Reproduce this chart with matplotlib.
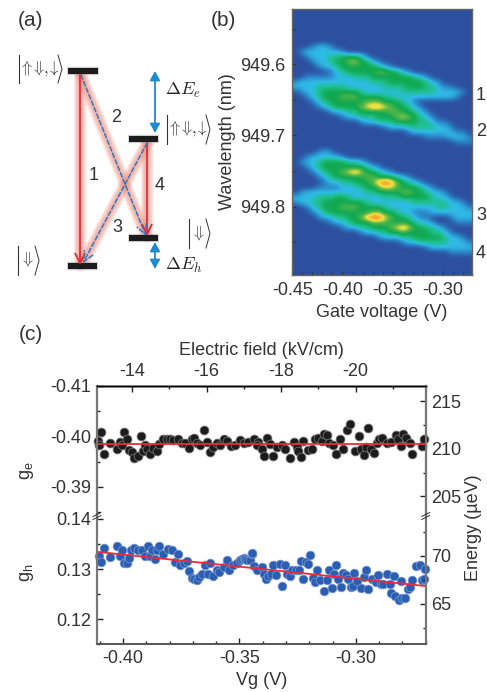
import numpy as np
import matplotlib
matplotlib.use('Agg')
import matplotlib.pyplot as plt
from matplotlib.colors import LinearSegmentedColormap
from matplotlib.ticker import MultipleLocator, FormatStrFormatter

plt.rcParams['font.family'] = ['Liberation Sans', 'DejaVu Sans']
plt.rcParams['mathtext.fontset'] = 'cm'
plt.rcParams['axes.unicode_minus'] = False
plt.rcParams['text.color'] = '#333333'
plt.rcParams['axes.labelcolor'] = '#333333'
plt.rcParams['xtick.labelcolor'] = '#333333'
plt.rcParams['ytick.labelcolor'] = '#333333'

W, H = 487, 692

# panel (c) data
vg_e = [-.4106, -.4093, -.4103, -.4084, -.4056, -.4027, -.4013, -.4003, -.3996, -.3984,
        -.3973, -.3963, -.3954, -.3934, -.3924, -.3916, -.3906, -.3896, -.3884, -.3873,
        -.3856, -.3844, -.3827, -.3813, -.3798, -.3787, -.3765, -.3748, -.3734, -.3715,
        -.3705, -.3694, -.3684, -.3670, -.3654, -.3638, -.3625, -.3612, -.3595, -.3584,
        -.3567, -.3552, -.3538, -.3519, -.3498, -.3479, -.3462, -.3436, -.3419, -.3426,
        -.3405, -.3395, -.3383, -.3369, -.3355, -.3340, -.3319, -.3305, -.3283, -.3265,
        -.3255, -.3247, -.3236, -.3226, -.3205, -.3190, -.3176, -.3162, -.3147, -.3137,
        -.3126, -.3114, -.3097, -.3086, -.3066, -.3054, -.3037, -.3026, -.3004, -.2986,
        -.2980, -.2966, -.2957, -.2946, -.2933, -.2923, -.2911, -.2900, -.2886, -.2868,
        -.2847, -.2828, -.2817, -.2805, -.2797, -.2783, -.2768, -.2757, -.2718, -.2708]
g_e = [-.3991, -.4008, -.3982, -.3966, -.3987, -.3974, -.3989, -.3982, -.4008, -.3995,
       -.3973, -.3969, -.3957, -.3961, -.4001, -.3971, -.3982, -.3974, -.3966, -.3977,
       -.3971, -.3984, -.3995, -.3994, -.3994, -.3992, -.3995, -.3987, -.3986, -.3977,
       -.3994, -.3996, -.3986, -.3982, -.4012, -.3989, -.3970, -.3979, -.3987, -.3982,
       -.3994, -.3991, -.3981, -.3982, -.3993, -.3986, -.3989, -.3994, -.3989, -.3982,
       -.3974, -.3961, -.3997, -.3984, -.3962, -.3979, -.3982, -.3974, -.3957, -.3989,
       -.3979, -.3971, -.3959, -.3991, -.3972, -.3974, -.3994, -.3997, -.3991, -.4004,
       -.4002, -.3986, -.3982, -.3966, -.3995, -.3974, -.4012, -.4025, -.3971, -.4001,
       -.3974, -.3963, -.3979, -.4017, -.3974, -.3967, -.3987, -.3994, -.3997, -.3987,
       -.3989, -.4002, -.3994, -.3981, -.4005, -.3997, -.3987, -.3965, -.3981, -.3994]

vg_h = [-.4103, -.4093, -.4084, -.4056, -.4026, -.4013, -.4004, -.3996, -.3984, -.3973,
        -.3966, -.3954, -.3937, -.3917, -.3906, -.3894, -.3884, -.3876, -.3864, -.3856,
        -.3844, -.3827, -.3808, -.3788, -.3778, -.3765, -.3755, -.3738, -.3724, -.3715,
        -.3705, -.3695, -.3684, -.3674, -.3661, -.3647, -.3635, -.3625, -.3612, -.3598,
        -.3587, -.3567, -.3555, -.3544, -.3526, -.3509, -.3498, -.3491, -.3479, -.3476,
        -.3466, -.3455, -.3448, -.3445, -.3436, -.3423, -.3405, -.3395, -.3386, -.3376,
        -.3366, -.3358, -.3343, -.3326, -.3316, -.3305, -.3295, -.3283, -.3273, -.3258,
        -.3246, -.3237, -.3225, -.3216, -.3206, -.3196, -.3186, -.3176, -.3166, -.3155,
        -.3136, -.3126, -.3116, -.3104, -.3096, -.3086, -.3077, -.3064, -.3054, -.3043,
        -.3033, -.3023, -.3014, -.3006, -.2997, -.2980, -.2966, -.2956, -.2946, -.2931,
        -.2914, -.2906, -.2891, -.2883, -.2867, -.2854, -.2847, -.2837, -.2830, -.2815,
        -.2804, -.2800, -.2787, -.2778, -.2768, -.2757, -.2740, -.2725, -.2718, -.2707,
        -.2704]
g_h = [.1326, .1315, .1343, .1325, .1346, .1326, .1338, .1313, .1313, .1322,
       .1338, .1343, .1338, .1338, .1326, .1347, .1326, .1339, .1321, .1339,
       .1347, .1331, .1341, .1337, .1315, .1330, .1309, .1313, .1316, .1296,
       .1283, .1279, .1278, .1285, .1291, .1308, .1291, .1313, .1286, .1298,
       .1294, .1305, .1317, .1297, .1308, .1313, .1318, .1321, .1323, .1321,
       .1319, .1319, .1331, .1333, .1306, .1298, .1304, .1291, .1281, .1287,
       .1290, .1309, .1288, .1310, .1267, .1309, .1291, .1287, .1299, .1299,
       .1298, .1316, .1281, .1314, .1311, .1328, .1283, .1275, .1297, .1278,
       .1257, .1278, .1297, .1263, .1290, .1309, .1281, .1265, .1293, .1288,
       .1279, .1265, .1266, .1293, .1277, .1262, .1285, .1299, .1260, .1281,
       .1275, .1289, .1270, .1270, .1290, .1270, .1253, .1287, .1247, .1238,
       .1276, .1243, .1243, .1261, .1264, .1278, .1306, .1309, .1278, .1280,
       .1301]

fit_vg = [-.4105, -.2702]
fit_e = [-.3985, -.3985]
fit_h = [.1334, .1266]

# panel (b) intensity map, one character per cell
map_rows = [
    "0" * 30, "0" * 30, "0" * 30, "0" * 30, "0" * 30, "0" * 30, "0" * 30,
    "000122100" + "0" * 21,
    "012222221" + "0" * 21,
    "0012223344431" + "0" * 17,
    "000122344564421" + "0" * 15,
    "00001223444444321" + "0" * 13,
    "00000012344444554421" + "0" * 10,
    "00111112223334444444321" + "0" * 7,
    "1222222222222333444444321" + "0" * 5,
    "222233333222222333344433211" + "000",
    "012234444443222222333333222210",
    "00" + "1" + "2" + "3" + "444" + "555" + "4444" + "33" + "2222222222" + "1" + "00",
    "000123444444555444321" + "0" * 9,
    "0000123444456776544321" + "0" * 8,
    "00000012233444445544321" + "0" * 7,
    "00000000" + "122333444" + "5654321" + "0" * 6,
    "0" * 11 + "12233344443321" + "1" + "0" * 4,
    "0" * 15 + "122233333221" + "000",
    "0" * 19 + "1222222211" + "0",
    "0" * 22 + "11112221",
    "0" * 27 + "111",
    "0" * 30,
    "000012100" + "0" * 21,
    "001222221" + "0" * 21,
    "0122344443321" + "0" * 17,
    "001234444444321" + "0" * 15,
    "00012344567644321" + "0" * 13,
    "00001234444455444321" + "0" * 10,
    "0000012233444578754321" + "0" * 8,
    "000011112223445665444321" + "0" * 6,
    "01" + "2222222222" + "33444455443221" + "0" * 4,
    "2222333443222223334444432210" + "00",
    "122334444444322222223333332210",
    "00123444555444432222222233222" + "1",
    "000123444444455443221112222222",
    "0000122334457886544321" + "1" + "000" + "1222",
    "00000012234445554444322" + "1" + "000111",
    "00000000" + "12233444" + "5676" + "44332" + "1" + "0000",
    "0" * 11 + "12233445444433210" + "00",
    "0" * 14 + "12223344444322" + "10",
    "0" * 18 + "122333332221",
    "0" * 22 + "12222222",
    "0" * 26 + "1111",
    "0" * 30, "0" * 30, "0" * 30, "0" * 30,
]
map_colors = ['#2d4f9f', '#2a84c6', '#2fbbe6', '#1fc08f', '#10a850', '#58b848',
              '#f4e440', '#f8a030', '#e62c28']

kets = [(19, 62, 55, 83, r'$\Uparrow\!\!\Downarrow\!,\!\!\downarrow$'),
        (167, 210, 115, 144, r'$\Uparrow\!\!\Downarrow\!,\!\!\downarrow$'),
        (189, 210, 219, 248, r'$\Downarrow$'), (18, 39, 246, 275, r'$\Downarrow$')]
bars = [(68, 98, 71), (129, 158, 139), (129, 158, 238), (68, 97, 266)]
red_paths = [(80, 75, 80, 265), (147, 143, 147, 236)]
blue_paths = [(81, 75, 146, 236), (147, 143, 83, 263)]
line_labels_a = [('1', 94, 175), ('2', 116, 118), ('3', 117, 228), ('4', 160, 185)]
line_labels_b = [('1', 481, 96), ('2', 481, 131), ('3', 481, 216), ('4', 481, 253)]


def box(l, t, r, b):
    return [l / W, 1 - b / H, (r - l) / W, (b - t) / H]


fig = plt.figure(figsize=(W / 100, H / 100), dpi=100)

# overlay in pixel units for the schematic and free labels
bg = fig.add_axes([0, 0, 1, 1])
bg.set_xlim(0, W)
bg.set_ylim(H, 0)
bg.axis('off')

for x0, y0, x1, y1 in red_paths + blue_paths:
    for lw in (9, 7.5, 6, 4.5, 3):
        bg.plot([x0, x1], [y0, y1], color='#f08a78', lw=lw, alpha=0.17, solid_capstyle='round', zorder=1)
for x0, x1, y in bars:
    bg.plot([x0 - 1, x1 + 1], [y, y], color='#999999', lw=6, alpha=0.4, solid_capstyle='butt', zorder=2)
    bg.plot([x0, x1], [y, y], color='#1c1c1c', lw=4.4, solid_capstyle='butt', zorder=3)
for x0, y0, x1, y1 in red_paths:
    bg.annotate('', xy=(x1, y1), xytext=(x0, y0), zorder=4,
                arrowprops=dict(arrowstyle='->,head_length=0.7,head_width=0.35', color='#e8202c', lw=1.2,
                                shrinkA=0, shrinkB=0))
for x0, y0, x1, y1 in blue_paths:
    bg.annotate('', xy=(x1, y1), xytext=(x0, y0), zorder=5,
                arrowprops=dict(arrowstyle='->,head_length=0.7,head_width=0.35', color='#2c7cc4', lw=1.1,
                                linestyle=(0, (3, 1.6)), shrinkA=0, shrinkB=0))
for y0, y1 in [(71, 133), (242, 269)]:
    bg.annotate('', xy=(155, y1), xytext=(155, y0),
                arrowprops=dict(arrowstyle='<|-|>,head_length=0.55,head_width=0.3', color='#1f8bcc', lw=1.3,
                                shrinkA=0, shrinkB=0))
bg.text(165, 90, r'$\Delta E_e$', fontsize=13, va='center', color='#222222')
bg.text(165, 265, r'$\Delta E_h$', fontsize=13, va='center', color='#222222')

for x0, x1, y0, y1, label in kets:
    yc = (y0 + y1) / 2
    bg.plot([x0, x0], [y0, y1], color='#333333', lw=0.8)
    bg.plot([x1 - 4, x1, x1 - 4], [y0, yc, y1], color='#333333', lw=0.7)
    bg.text((x0 + x1 - 2) / 2, yc - 1, label, fontsize=12, ha='center', va='center', color='#333333')
for s, x, y in line_labels_a + line_labels_b:
    bg.text(x, y, s, fontsize=13, ha='center', va='center')

bg.text(18, 20, '(a)', fontsize=15, va='center')
bg.text(211, 20, '(b)', fontsize=15, va='center')
bg.text(19, 334, '(c)', fontsize=15, va='center')

# panel (b)
ax_b = fig.add_axes(box(292.3, 9.3, 471.7, 274.7))
grid = np.array([[int(ch) for ch in row] for row in map_rows], dtype=float)
cmap = LinearSegmentedColormap.from_list('pl', map_colors)
ax_b.imshow(grid, cmap=cmap, vmin=0, vmax=8, aspect='auto', interpolation='bicubic',
            extent=(-0.45, -0.2713, 949.8955, 949.5228))
ax_b.set_xticks([-0.45, -0.40, -0.35, -0.30])
ax_b.xaxis.set_major_formatter(FormatStrFormatter('%.2f'))
ax_b.xaxis.set_minor_locator(MultipleLocator(0.01))
ax_b.set_yticks([949.6, 949.7, 949.8])
ax_b.yaxis.set_major_formatter(FormatStrFormatter('%.1f'))
ax_b.yaxis.set_minor_locator(MultipleLocator(0.05))
ax_b.tick_params(which='major', direction='in', length=3, width=0.8, labelsize=13, color='#333333', pad=5)
ax_b.tick_params(which='minor', direction='in', length=2, width=0.8, color='#333333')
ax_b.set_xlabel('Gate voltage (V)', fontsize=13, labelpad=4)
ax_b.set_ylabel('Wavelength (nm)', fontsize=13, labelpad=3)
for sp in ax_b.spines.values():
    sp.set_color('#666666')
    sp.set_linewidth(1.0)

# panel (c), broken axis
ax_e = fig.add_axes(box(97, 386, 425.7, 515.5))
ax_h = fig.add_axes(box(97, 517, 425.7, 644))
for ax in (ax_e, ax_h):
    ax.patch.set_alpha(0)
    ax.set_xlim(-0.4112, -0.27)

ax_e.scatter(vg_e, g_e, s=40, color='#1c1c1c', edgecolors='#707070', linewidths=0.6, zorder=3, clip_on=False)
ax_e.plot(fit_vg, fit_e, color='#ec2a3c', lw=1.3, zorder=4)
ax_h.scatter(vg_h, g_h, s=40, color='#2b5eb2', edgecolors='#7f9dd2', linewidths=0.5, zorder=3, clip_on=False)
ax_h.plot(fit_vg, fit_h, color='#ec2a3c', lw=1.3, zorder=4)

ax_e.set_ylim(-0.3843, -0.41)
ax_h.set_ylim(0.115, 0.1404)
ax_e.set_yticks([-0.41, -0.40, -0.39])
ax_e.yaxis.set_major_formatter(FormatStrFormatter('%.2f'))
ax_e.yaxis.set_minor_locator(MultipleLocator(0.005))
ax_h.set_yticks([0.12, 0.13, 0.14])
ax_h.yaxis.set_major_formatter(FormatStrFormatter('%.2f'))
ax_h.yaxis.set_minor_locator(MultipleLocator(0.005))

ax_e.spines['bottom'].set_visible(False)
ax_h.spines['top'].set_visible(False)
ax_h.set_xticks([-0.40, -0.35, -0.30])
ax_h.xaxis.set_major_formatter(FormatStrFormatter('%.2f'))
ax_h.xaxis.set_minor_locator(MultipleLocator(0.01))
ax_h.set_xlabel('Vg (V)', fontsize=13, labelpad=4)

top = ax_e.twiny()
top.set_xlim(-13.06, -21.88)
top.set_xticks([-14, -16, -18, -20])
top.xaxis.set_major_formatter(FormatStrFormatter('%d'))
top.xaxis.set_minor_locator(MultipleLocator(1))
top.set_xlabel('Electric field (kV/cm)', fontsize=13, labelpad=6)
top.spines['bottom'].set_visible(False)
# twiny moved the lower axis ticks back on, take them off again
ax_e.tick_params(axis='x', which='both', bottom=False, labelbottom=False)

right_e = ax_e.twinx()
right_e.set_ylim(203.0, 216.6)
right_e.set_yticks([205, 210, 215])
right_e.yaxis.set_minor_locator(MultipleLocator(2.5))
right_e.spines['bottom'].set_visible(False)
right_e.tick_params(axis='x', which='both', bottom=False, labelbottom=False)
right_h = ax_h.twinx()
right_h.set_ylim(60.83, 74.06)
right_h.set_yticks([65, 70])
right_h.yaxis.set_minor_locator(MultipleLocator(2.5))
right_h.spines['top'].set_visible(False)

for ax in (ax_e, ax_h, top, right_e, right_h):
    ax.tick_params(which='major', direction='in', length=4, width=1.0, labelsize=13, color='#222222', pad=4)
    ax.tick_params(which='minor', direction='in', length=2.5, width=1.0, color='#222222')
    ax.spines['left'].set_color('#777777')
    ax.spines['left'].set_linewidth(1.5)
    ax.spines['right'].set_color('#777777')
    ax.spines['right'].set_linewidth(1.5)
    ax.spines['top'].set_linewidth(1.0)
    ax.spines['bottom'].set_color('#555555')
    ax.spines['bottom'].set_linewidth(1.2)

# break marks and side labels on top of everything
fg = fig.add_axes([0, 0, 1, 1])
fg.set_xlim(0, W)
fg.set_ylim(H, 0)
fg.axis('off')
for xb in (97, 425.7):
    for yb in (514.5, 517.5):
        fg.plot([xb - 4, xb + 4], [yb + 2, yb - 2], color='#333333', lw=0.7)
fg.text(27, 470, r'g$_{\mathregular{e}}$', fontsize=13, rotation=90, ha='center', va='center')
fg.text(27, 572, r'g$_{\mathregular{h}}$', fontsize=13, rotation=90, ha='center', va='center')
fg.text(474, 528, 'Energy (µeV)', fontsize=13, rotation=90, ha='center', va='center')

fig.savefig('out.png', dpi=100)
